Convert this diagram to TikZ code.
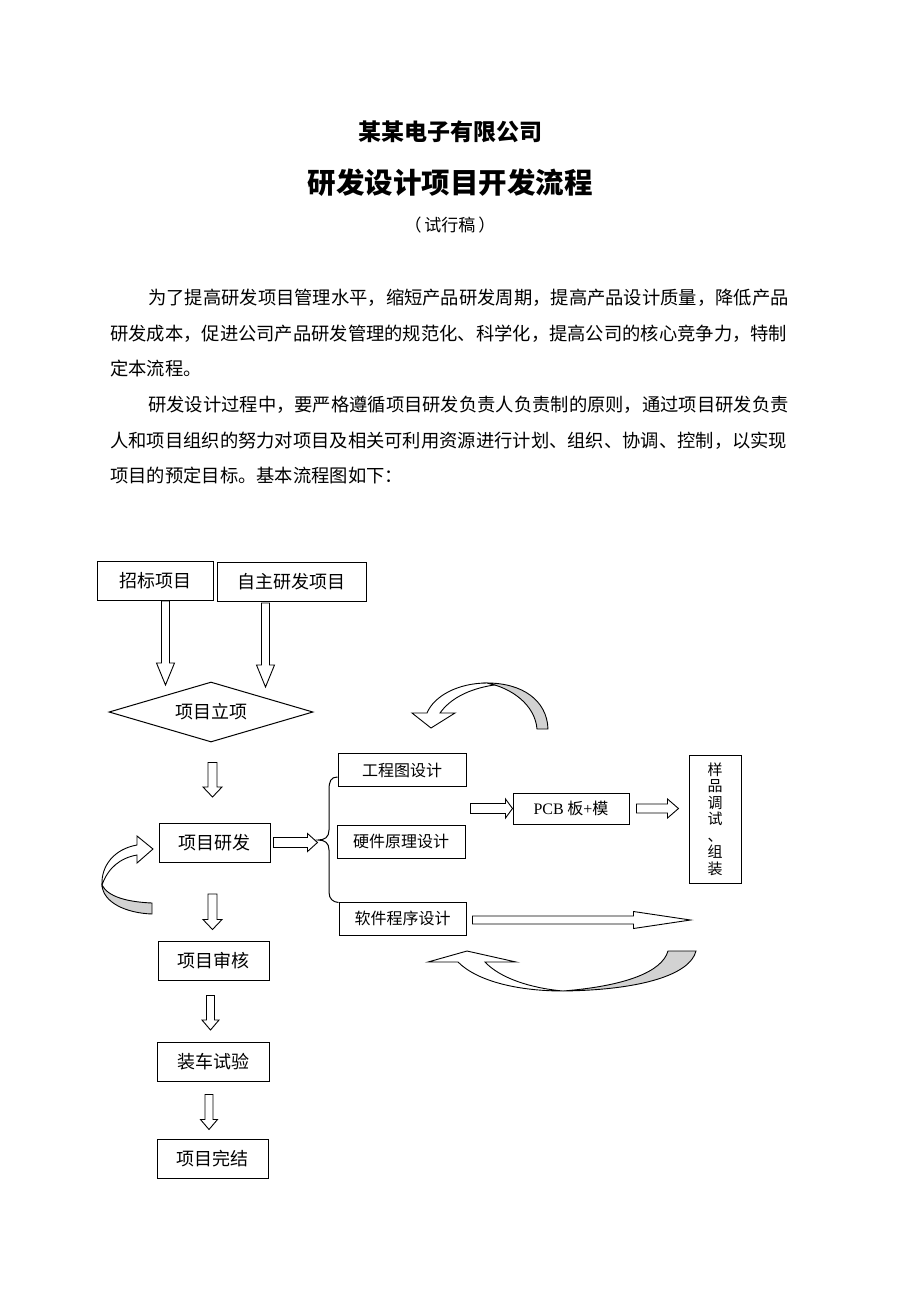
\documentclass[tikz,border=0pt]{standalone}
\usepackage{fontspec}
\setmainfont{Noto Sans CJK SC}
\newfontfamily\latinserif{Liberation Serif}
\usetikzlibrary{shapes.geometric,calc,positioning}
\tikzset{
  fbox/.style={rectangle,draw,line width=1pt,minimum width=111pt,minimum height=39pt,
               inner sep=0pt,font=\fontsize{18}{18}\selectfont},
  sbox/.style={fbox,minimum width=128pt,minimum height=33pt,font=\fontsize{16}{16}\selectfont},
  para/.style={anchor=west,inner sep=0pt,font=\fontsize{18.3}{18.3}\selectfont},
  harrow/.style={draw,fill=white,line width=0.9pt,line join=miter},
  ribbon/.style={draw,fill=white,line width=0.9pt},
  ribbonback/.style={ribbon,fill=gray!35},
}
% hollow block arrow: from, to, shaft half width, head half width, head length
\newcommand{\blockarr}[5]{%
  \path[harrow] let \p1=(#1), \p2=(#2), \n1={atan2(\y2-\y1,\x2-\x1)},
    \n2={veclen(\x2-\x1,\y2-\y1)} in [shift={(\p1)},rotate=\n1]
    (0,-#3) -- ({\n2-#5},-#3) -- ({\n2-#5},-#4) -- (\n2,0) -- ({\n2-#5},#4)
    -- ({\n2-#5},#3) -- (0,#3) -- cycle;}

\begin{document}
\begin{tikzpicture}[x=1pt,y=1pt]
  \useasboundingbox[fill=white] (0,0) rectangle (920,-1302);

  % heading
  \node[font=\fontsize{23}{23}\selectfont\bfseries] (company) at (450,-132) {某某电子有限公司};
  \node[font=\fontsize{28.5}{28.5}\selectfont\bfseries] (title) at (450,-183) {研发设计项目开发流程};
  \node[font=\fontsize{17}{17}\selectfont] (draft) at (450,-225) {（\,试行稿\,）};

  % text
  \node[para] (l1) at (148,-298) {为了提高研发项目管理水平，缩短产品研发周期，提高产品设计质量，降低产品};
  \node[para] (l2) at (110,-334) {研发成本，促进公司产品研发管理的规范化、科学化，提高公司的核心竞争力，特制};
  \node[para] (l3) at (110,-369) {定本流程。};
  \node[para] (l4) at (148,-405) {研发设计过程中，要严格遵循项目研发负责人负责制的原则，通过项目研发负责};
  \node[para] (l5) at (110,-441) {人和项目组织的努力对项目及相关可利用资源进行计划、组织、协调、控制，以实现};
  \node[para] (l6) at (110,-476) {项目的预定目标。基本流程图如下：};

  % flow chart
  \node[fbox,minimum width=116pt] (zhaobiao) at (155,-581) {招标项目};
  \node[fbox,minimum width=149pt] (zizhu) at (291.5,-582) {自主研发项目};
  \node[diamond,draw,line width=1pt,aspect=3.4,inner sep=0pt,minimum width=204pt,
        minimum height=60pt,font=\fontsize{18}{18}\selectfont] (lixiang) at (211,-712) {项目立项};
  \node[fbox] (yanfa) at (214.5,-842.5) {项目研发};
  \node[fbox] (shenhe) at (213.5,-961) {项目审核};
  \node[fbox,minimum width=112pt] (zhuangche) at (213,-1061.5) {装车试验};
  \node[fbox] (wanjie) at (212.5,-1159) {项目完结};

  \node[sbox] (gongcheng) at (402,-770) {工程图设计};
  \node[sbox] (yingjian) at (401,-841.5) {硬件原理设计};
  \node[sbox,minimum width=127pt] (ruanjian) at (402.5,-918.5) {软件程序设计};
  \node[fbox,minimum width=116pt,minimum height=31pt,font=\fontsize{16}{16}\selectfont]
    (pcb) at (571,-808.5) {{\latinserif PCB} 板{\latinserif +}模};
  \node[fbox,minimum width=52pt,minimum height=128pt,align=center,
        font=\fontsize{15}{16.5}\selectfont] (yangpin) at (715,-819) {样\\品\\调\\试\\、\\组\\装};

  \blockarr{$(zhaobiao.south)+(10.5,0)$}{$(zhaobiao.south)+(10.5,-84)$}{4}{9}{22}
  \blockarr{$(zizhu.south)+(-26,-1)$}{$(zizhu.south)+(-26,-85)$}{4}{9}{22}
  \blockarr{$(lixiang.south)+(1.5,-20)$}{$(yanfa.north)+(-2,25.5)$}{4.5}{9.5}{10}
  \blockarr{$(yanfa.south)+(-2,-31.5)$}{$(shenhe.north)+(-1,11.5)$}{4.5}{9.5}{10}
  \blockarr{$(shenhe.south)+(-3,-14.5)$}{$(zhuangche.north)+(-2.5,11.5)$}{4}{8.5}{10}
  \blockarr{$(zhuangche.south)+(-4,-13)$}{$(wanjie.north)+(-3.5,9.5)$}{4}{8.5}{10}
  \blockarr{$(yanfa.east)+(3,0)$}{$(yanfa.east)+(47,0)$}{5}{9}{10}
  \blockarr{$(yingjian.east |- pcb.west)+(5,0)$}{pcb.west}{5}{9.5}{7}
  \blockarr{$(pcb.east)+(7,0)$}{$(pcb.east)+(49,0)$}{4.5}{9.5}{11}
  \blockarr{$(ruanjian.east)+(6,-1.5)$}{$(ruanjian.east)+(224,-1.5)$}{4}{8.5}{57}

  % brace to the three design tasks
  \coordinate (tip) at (318,-840);
  \draw[line width=1pt] ($(gongcheng.west)+(0,-7)$) .. controls (331,-777) and (329,-781) .. (329,-790)
    -- (329,-830) .. controls (329,-837) and (325,-840) .. (tip)
    .. controls (325,-840) and (329,-843) .. (329,-850) -- (329,-892)
    .. controls (329,-899) and (333,-902) .. ($(ruanjian.north west)+(0,-1)$);

  % curved arrows
  \path[ribbonback] (548,-729) .. controls (547,-700) and (522,-683) .. (487,-683)
    .. controls (512,-688) and (535,-705) .. (537,-729) -- cycle;
  \path[ribbon] (487,-683) .. controls (458,-683) and (434,-696) .. (427,-713) -- (412,-713)
    -- (431,-728) -- (455,-713) -- (440,-713) .. controls (450,-699) and (468,-689) .. (494,-685) -- cycle;

  \path[ribbon] (137,-845) .. controls (114,-849) and (101,-866) .. (102,-885)
    .. controls (108,-868) and (120,-858) .. (137,-855) -- (137,-863) -- (153,-849) -- (137,-836) -- cycle;
  \path[ribbonback] (102,-885) .. controls (103,-902) and (125,-913) .. (152,-914) -- (152,-903)
    .. controls (128,-902) and (108,-897) .. (102,-885) -- cycle;

  \path[ribbon] (458,-962) .. controls (478,-982) and (520,-991) .. (563,-991)
    .. controls (530,-988) and (500,-978) .. (485,-962) -- (516,-962) -- (467,-951) -- (428,-962) -- cycle;
  \path[ribbonback] (563,-991) .. controls (640,-990) and (690,-975) .. (696,-951) -- (668,-951)
    .. controls (662,-972) and (625,-986) .. (563,-991) -- cycle;
\end{tikzpicture}
\end{document}
